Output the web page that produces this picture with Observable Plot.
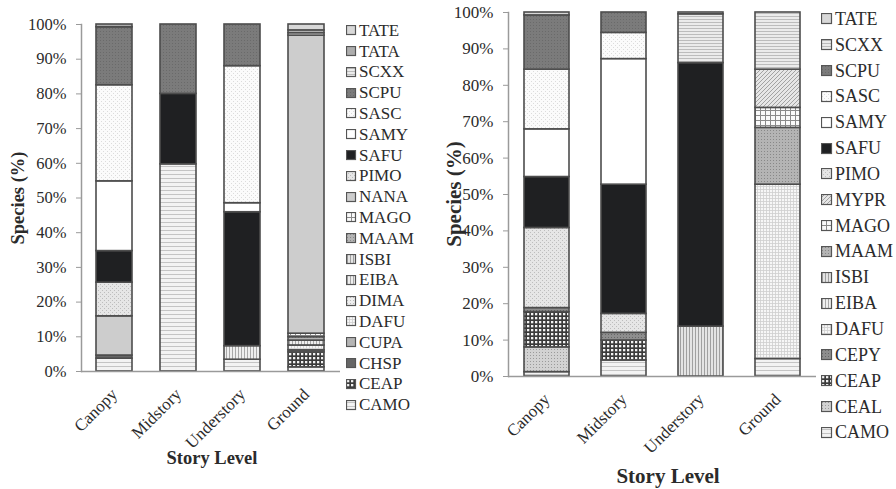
<!DOCTYPE html>
<html>
<head>
<meta charset="utf-8">
<script src="https://cdn.jsdelivr.net/npm/d3@7"></script>
<script src="https://cdn.jsdelivr.net/npm/@observablehq/plot@0.6"></script>
<style>
  html, body { margin: 0; padding: 0; background: #fff; }
  #wrap { position: relative; width: 896px; height: 489px; overflow: hidden; font-family: "Liberation Serif", "Times New Roman", serif; color: #2b2b2b; }
  .panel { position: absolute; top: 0; }
  .panel svg { overflow: visible; }
  g[aria-label="y-axis tick"] { stroke: #9a9a9a; }
  .ttl { position: absolute; font-family: "Liberation Serif", "DejaVu Serif", serif; font-weight: 700; white-space: nowrap; }
  .leg { position: absolute; display: flex; align-items: center; white-space: nowrap; }
  .leg svg { display: block; margin-right: 2px; }
</style>
</head>
<body>
<svg width="0" height="0" style="position:absolute">
  <defs id="pdefs"></defs>
</svg>
<div id="wrap"></div>
<script>
// ---------- data ----------
const levels = ["Canopy", "Midstory", "Understory", "Ground"];

// left panel species (stack order bottom -> top)
const leftSpecies = ["CAMO","CEAP","CHSP","CUPA","DAFU","DIMA","EIBA","ISBI","MAAM","MAGO","NANA","PIMO","SAFU","SAMY","SASC","SCPU","SCXX","TATA","TATE"];
const leftCanopy     = [3.7, 0, 0.9, 0, 0,   0, 0,   0, 0,   0,   11.3, 9.7, 9.1,  20.1, 27.7, 16.7, 0,   0.8, 0];
const leftMidstory   = [59.7,0, 0,   0, 0,   0, 0,   0, 0,   0,   0,    0,   20.3, 0,    0,    20.0, 0,   0,   0];
const leftUnderstory = [3.4, 0, 0,   0, 0,   0, 3.9, 0, 0,   0,   0,    0,   38.6, 2.6,  39.5, 12.0, 0,   0,   0];
const leftGround     = [1.2, 4.3, 0.6, 0, 1.4, 0, 1.4, 0, 1.0, 1.0, 85.9, 0,   0,    0.7,  0,    0,    0.8, 0,   1.7];

// right panel species (stack order bottom -> top)
const rightSpecies = ["CAMO","CEAL","CEAP","CEPY","DAFU","EIBA","ISBI","MAAM","MAGO","MYPR","PIMO","SAFU","SAMY","SASC","SCPU","SCXX","TATE"];
const rightCanopy     = [1.2, 6.8, 9.7, 1.1, 0,    0, 0,    0,    0,   0,    22.0, 14.0, 13.1, 16.4, 14.9, 0,    0.8];
const rightMidstory   = [4.4, 0,   5.5, 2.1, 0,    0, 0,    0,    0,   0,    5.2,  35.5, 34.5, 7.2,  5.6,  0,    0];
const rightUnderstory = [0,   0,   0,   0,   0,    0, 13.7, 0,    0,   0,    0,    72.4, 0,    0,    0,    13.4, 0.5];
const rightGround     = [4.8, 0,   0,   0,   47.9, 0, 0,    15.6, 5.5, 10.5, 0,    0,    0,    0,    0,    15.7, 0];

const yTicks = [0, 10, 20, 30, 40, 50, 60, 70, 80, 90, 100];

// ---------- fill patterns (one per species) ----------
const patterns = {
  CAMO: {s: 4, bg: "#f3f3f3", inner: '<rect y="2" width="4" height="1" fill="#c4c4c4"/>'},
  CEAL: {s: 3, bg: "#d2d2d2", inner: '<rect x="1" y="1" width="1" height="1" fill="#9a9a9a"/>'},
  CEAP: {s: 4, bg: "#3a3a3a", inner: '<rect x="1" y="1" width="2.3" height="2.3" fill="#f2f2f2"/>'},
  CEPY: {s: 3, bg: "#8e8e8e", inner: '<rect x="1" y="1" width="1" height="1" fill="#666"/>'},
  CHSP: {s: 3, bg: "#666", inner: ''},
  CUPA: {s: 3, bg: "#b5b5b5", inner: ''},
  DAFU: {s: 3, bg: "#f7f7f7", inner: '<rect width="3" height="0.8" fill="#d0d0d0"/><rect width="0.8" height="3" fill="#d0d0d0"/>'},
  DIMA: {s: 3, bg: "#eeeeee", inner: '<rect x="1" y="1" width="1" height="1" fill="#bbb"/>'},
  EIBA: {s: 3, bg: "#eeeeee", inner: '<rect x="1" width="1" height="3" fill="#a8a8a8"/>'},
  ISBI: {s: 3, bg: "#e4e4e4", inner: '<rect x="1" width="1" height="3" fill="#a0a0a0"/>'},
  MAAM: {s: 3, bg: "#b4b4b4", inner: '<rect x="1" y="1" width="1" height="1" fill="#888"/>'},
  MAGO: {s: 5, bg: "#fafafa", inner: '<rect width="5" height="1" fill="#8a8a8a"/><rect width="1" height="5" fill="#8a8a8a"/>'},
  MYPR: {s: 4, bg: "#e6e6e6", inner: '<path d="M0,4 L4,0 M-1,1 L1,-1 M3,5 L5,3" stroke="#a2a2a2" stroke-width="1"/>'},
  NANA: {s: 3, bg: "#cdcdcd", inner: ''},
  PIMO: {s: 4, bg: "#e6e6e6", inner: '<rect x="0" y="0" width="1" height="1" fill="#bdbdbd"/><rect x="2" y="2" width="1" height="1" fill="#bdbdbd"/>'},
  SAFU: {s: 3, bg: "#1f2022", inner: ''},
  SAMY: {s: 3, bg: "#ffffff", inner: ''},
  SASC: {s: 4, bg: "#fbfbfb", inner: '<rect x="1" y="1" width="1" height="1" fill="#dcdcdc"/><rect x="3" y="3" width="1" height="1" fill="#dcdcdc"/>'},
  SCPU: {s: 3, bg: "#7b7b7b", inner: '<rect x="1" y="1" width="1" height="1" fill="#6a6a6a"/>'},
  SCXX: {s: 3, bg: "#ebebeb", inner: '<rect y="1" width="3" height="1" fill="#bcbcbc"/>'},
  TATA: {s: 3, bg: "#adadad", inner: ''},
  TATE: {s: 3, bg: "#d8d8d8", inner: ''}
};
document.getElementById("pdefs").innerHTML = Object.entries(patterns).map(([k, p]) =>
  `<pattern id="p-${k}" patternUnits="userSpaceOnUse" width="${p.s}" height="${p.s}"><rect width="${p.s}" height="${p.s}" fill="${p.bg}"/>${p.inner}</pattern>`
).join("");

function rows(species, perLevel) {
  return levels.flatMap((lv, i) => species.map((s, j) => ({level: lv, species: s, value: perLevel[i][j]})))
    .filter(d => d.value > 0);
}

function panel({species, perLevel, left, width, mTop, mBottom, mLeft, mRight, pInner, tickFont, catFont}) {
  const chart = Plot.plot({
    width, height: 489,
    marginTop: mTop, marginBottom: mBottom, marginLeft: mLeft, marginRight: mRight,
    style: {fontFamily: '"Liberation Serif", "Times New Roman", serif', color: "#2b2b2b", background: "transparent", overflow: "visible"},
    x: {domain: levels, paddingInner: pInner, paddingOuter: pInner / 2, label: null},
    y: {domain: [0, 100], label: null},
    color: {domain: species, range: species.map(s => `url(#p-${s})`)},
    marks: [
      Plot.barY(rows(species, perLevel), {x: "level", y: "value", fill: "species", stroke: "#4d4d4d", strokeWidth: 1.6}),
      Plot.frame({anchor: "left", stroke: "#9a9a9a", strokeWidth: 1.5}),
      Plot.ruleY([0], {stroke: "#9a9a9a", strokeWidth: 1.5}),
      Plot.axisY({ticks: yTicks, tickFormat: d => d + "%", tickSize: 5, tickPadding: 10, fontSize: tickFont, label: null}),
      Plot.axisX({tickSize: 0, tickPadding: 20, tickRotate: -45, fontSize: catFont, label: null})
    ]
  });
  const d = document.createElement("div");
  d.className = "panel";
  d.style.left = left + "px";
  d.appendChild(chart);
  document.getElementById("wrap").appendChild(d);
}

function legend(species, x, y0, step, fontSize, box) {
  const wrap = document.getElementById("wrap");
  species.slice().reverse().forEach((s, i) => {
    const el = document.createElement("div");
    el.className = "leg";
    el.style.left = x + "px";
    el.style.top = (y0 + i * step - 12) + "px";
    el.style.height = "24px";
    el.style.fontSize = fontSize + "px";
    el.innerHTML = `<svg width="${box + 1}" height="${box + 1}"><rect x="0.5" y="0.5" width="${box - 1}" height="${box - 1}" fill="url(#p-${s})" stroke="#555" stroke-width="1.2"/></svg><span>${s}</span>`;
    wrap.appendChild(el);
  });
}

function title(text, x, y, size, rotate) {
  const el = document.createElement("div");
  el.className = "ttl";
  el.textContent = text;
  el.style.fontSize = size + "px";
  el.style.left = x + "px";
  el.style.top = y + "px";
  el.style.transform = `translate(-50%, -50%)` + (rotate ? " rotate(-90deg)" : "");
  document.getElementById("wrap").appendChild(el);
}

panel({species: leftSpecies, perLevel: [leftCanopy, leftMidstory, leftUnderstory, leftGround],
  left: 0, width: 345, mTop: 24, mBottom: 118, mLeft: 81, mRight: 5, pInner: 0.43, tickFont: 16.5, catFont: 17});
panel({species: rightSpecies, perLevel: [rightCanopy, rightMidstory, rightUnderstory, rightGround],
  left: 430, width: 390, mTop: 12, mBottom: 113, mLeft: 78, mRight: 4, pInner: 0.42, tickFont: 17, catFont: 17});

legend(leftSpecies, 346, 30.7, 20.8, 17, 10);
legend(rightSpecies, 821, 19.3, 25.85, 18, 11);

title("Species (%)", 18, 198, 18.5, true);
title("Story Level", 212, 458, 18.5, false);
title("Species (%)", 454, 194, 21, true);
title("Story Level", 668, 476, 21, false);
</script>
</body>
</html>
